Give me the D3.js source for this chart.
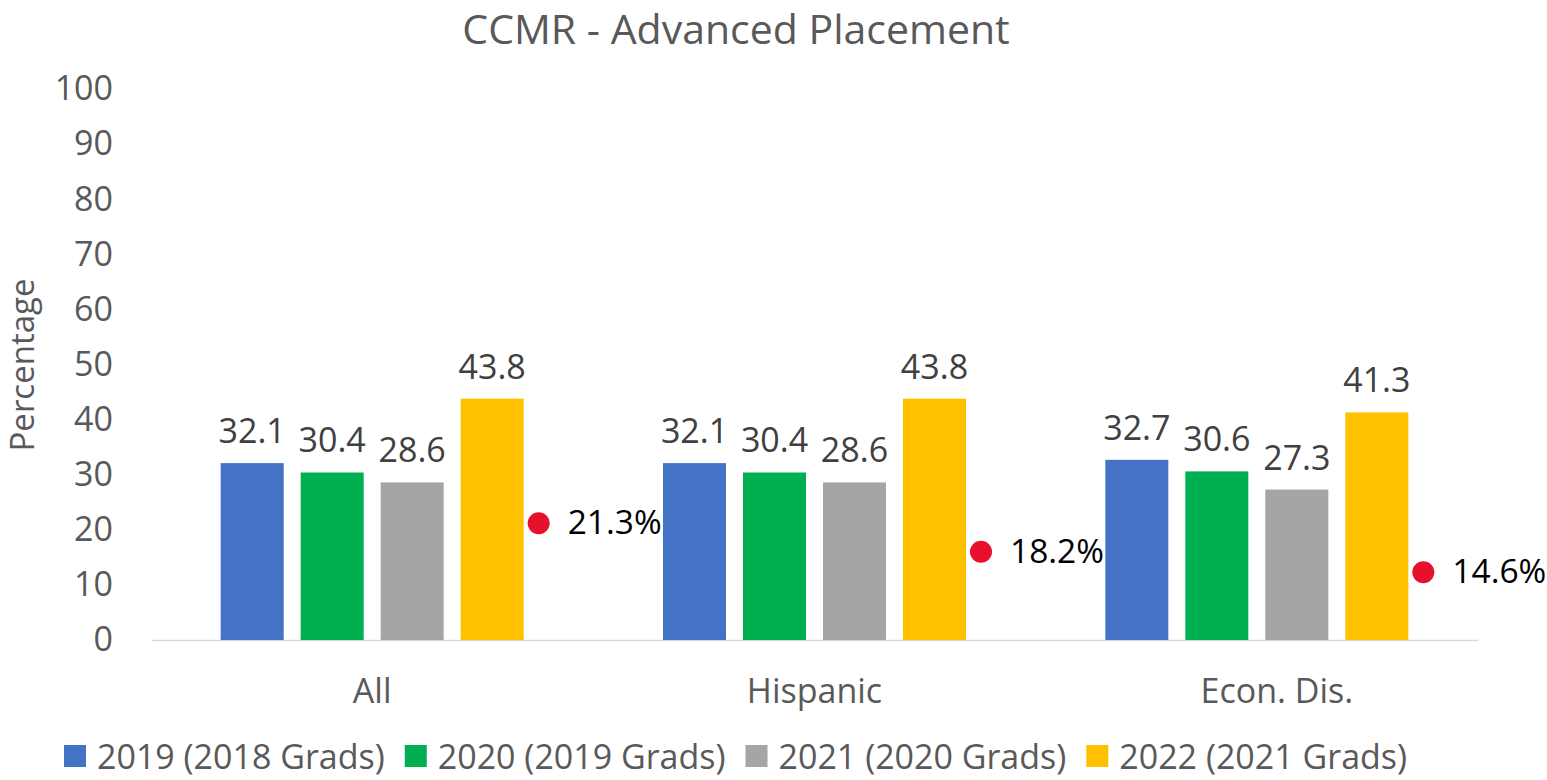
<!DOCTYPE html>
<html>
<head>
<meta charset="utf-8">
<script src="https://cdn.jsdelivr.net/npm/d3@7"></script>
<style>
  html, body { margin: 0; padding: 0; background: #fff; }
  svg { display: block; font-family: "Open Sans", sans-serif; }
</style>
</head>
<body>
<div id="chart"></div>
<script>
// data
const categories = ["All", "Hispanic", "Econ. Dis."];
const seriesNames = ["2019 (2018 Grads)", "2020 (2019 Grads)", "2021 (2020 Grads)", "2022 (2021 Grads)"];
const values2019 = [32.1, 32.1, 32.7];
const values2020 = [30.4, 30.4, 30.6];
const values2021 = [28.6, 28.6, 27.3];
const values2022 = [43.8, 43.8, 41.3];
const changeDotValues = [21.2, 16.0, 12.3]; // dot height as read on the chart
const changeLabels = ["21.3%", "18.2%", "14.6%"];
const yTicks = [0, 10, 20, 30, 40, 50, 60, 70, 80, 90, 100];

const colors = ["#4472C4", "#00B050", "#A5A5A5", "#FFC000"];
const palette = {
  title: "#595959",
  tick: "#595959",
  label: "#404040",
  axis: "#D9D9D9",
  dot: "#E8112D",
};

const width = 1547, height = 780;
const plot = { left: 151, right: 1478, top: 89, bottom: 640 };

const svg = d3.select("#chart").append("svg")
  .attr("width", width)
  .attr("height", height);

const allSeries = [values2019, values2020, values2021, values2022];

const x0 = d3.scaleBand().domain(categories).range([plot.left, plot.right]);
const x1 = d3.scaleBand().domain(seriesNames).range([-151.5, 151.5]).paddingInner(0.2125);
const y = d3.scaleLinear().domain([0, 100]).range([plot.bottom, plot.top]);

// title
svg.append("text")
  .text("CCMR - Advanced Placement")
  .attr("x", 736)
  .attr("y", 44)
  .attr("text-anchor", "middle")
  .style("font-size", "41px")
  .style("fill", palette.title);

// y axis title
svg.append("text")
  .text("Percentage")
  .attr("transform", "translate(34,365) rotate(-90)")
  .attr("text-anchor", "middle")
  .style("font-size", "33px")
  .style("fill", palette.tick);

// y axis (labels only)
const yAxis = d3.axisLeft(y).tickValues(yTicks).tickSize(0).tickPadding(0);
const yg = svg.append("g")
  .attr("transform", "translate(113,0)")
  .call(yAxis);
yg.select(".domain").remove();
yg.selectAll("text")
  .style("font-size", "34px")
  .style("font-family", "Open Sans")
  .attr("fill", palette.tick);

// x axis
const xAxis = d3.axisBottom(x0).tickSize(0);
const xg = svg.append("g")
  .attr("transform", `translate(0,${plot.bottom})`)
  .call(xAxis);
xg.select(".domain")
  .attr("stroke", palette.axis)
  .attr("stroke-width", 1.5);
xg.selectAll("text")
  .attr("y", 63)
  .attr("dy", null)
  .attr("dx", (d) => (d === "Econ. Dis." ? 20 : 0))
  .style("font-size", "34px")
  .style("font-family", "Open Sans")
  .attr("fill", palette.tick);

// bars
const groups = svg.selectAll(".group")
  .data(categories)
  .enter()
  .append("g")
  .attr("class", "group")
  .attr("transform", (d) => `translate(${x0(d) + x0.bandwidth() / 2},0)`);

groups.each(function (cat, ci) {
  const g = d3.select(this);
  const rows = seriesNames.map((s, si) => ({ s, si, v: allSeries[si][ci] }));

  g.selectAll("rect")
    .data(rows)
    .enter()
    .append("rect")
    .attr("x", (d) => x1(d.s))
    .attr("width", x1.bandwidth())
    .attr("y", (d) => y(d.v))
    .attr("height", (d) => y(0) - y(d.v))
    .attr("fill", (d) => colors[d.si]);

  g.selectAll(".val")
    .data(rows)
    .enter()
    .append("text")
    .attr("class", "val")
    .text((d) => d.v.toFixed(1))
    .attr("x", (d) => x1(d.s) + x1.bandwidth() / 2)
    .attr("y", (d) => y(d.v) - 20)
    .attr("text-anchor", "middle")
    .style("font-size", "34px")
    .style("fill", palette.label);

  // change dot + label
  const dotX = x1(seriesNames[3]) + x1.bandwidth() + 15;
  g.append("circle")
    .attr("cx", dotX)
    .attr("cy", y(changeDotValues[ci]))
    .attr("r", 11)
    .attr("fill", palette.dot);
  g.append("text")
    .text(changeLabels[ci])
    .attr("x", dotX + 29)
    .attr("y", y(changeDotValues[ci]) + 11)
    .style("font-size", "33.5px")
    .style("fill", "#000");
});

// legend
const legend = svg.append("g").attr("class", "legend");
let lx = 64;
seriesNames.forEach((name, i) => {
  legend.append("rect")
    .attr("x", lx)
    .attr("y", 745)
    .attr("width", 22)
    .attr("height", 22)
    .attr("fill", colors[i]);
  const t = legend.append("text")
    .text(name)
    .attr("x", lx + 33)
    .attr("y", 769)
    .style("font-size", "34px")
    .style("fill", palette.tick);
  lx += 33 + t.node().getComputedTextLength() + 20;
});
</script>
</body>
</html>
